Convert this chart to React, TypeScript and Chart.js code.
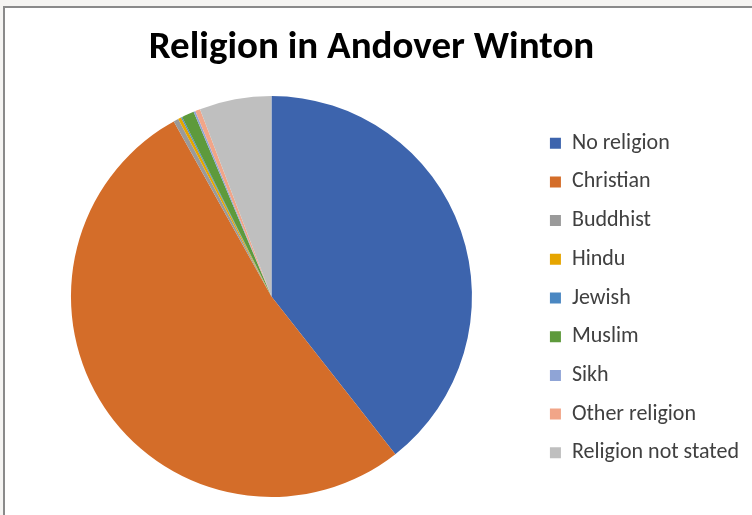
import React, { useEffect, useRef } from "react";
import { Chart, registerables } from "chart.js";

Chart.register(...registerables);

const TITLE = "Religion in Andover Winton";
const categories = [
  "No religion",
  "Christian",
  "Buddhist",
  "Hindu",
  "Jewish",
  "Muslim",
  "Sikh",
  "Other religion",
  "Religion not stated",
];
const percentages = [39.4, 52.5, 0.4, 0.25, 0.1, 1.0, 0.15, 0.4, 5.8];
const colors = [
  "#3D64AD",
  "#D46D29",
  "#9A9A9A",
  "#E6A500",
  "#4A87C2",
  "#5E9A3C",
  "#8FA4D6",
  "#F1A588",
  "#BFBFBF",
];

export default function App() {
  const ref = useRef<HTMLCanvasElement | null>(null);

  useEffect(() => {
    if (!ref.current) return;
    const chart = new Chart(ref.current, {
      type: "pie",
      data: {
        labels: categories,
        datasets: [
          {
            data: percentages,
            backgroundColor: colors,
            borderWidth: 0,
          },
        ],
      },
      options: {
        animation: false,
        responsive: false,
        layout: { padding: { left: 0, right: 0, top: 0, bottom: 18 } },
        plugins: {
          title: {
            display: true,
            text: TITLE,
            color: "#000000",
            font: { family: "Carlito, Calibri, Lato, sans-serif", size: 39, weight: "bold" },
            padding: { top: 16.5, bottom: 24.7 },
          },
          subtitle: {
            display: true,
            position: "left",
            fullSize: false,
            text: " ",
            color: "rgba(0,0,0,0)",
            font: { size: 10, lineHeight: 1.2 },
            padding: { top: 1.85, bottom: 1.85 },
          },
          legend: {
            position: "right",
            fullSize: false,
            maxWidth: 300,
            title: {
              display: true,
              text: " ",
              padding: 0,
              font: { size: 2.5, lineHeight: 1.2 },
            },
            labels: {
              color: "#404040",
              font: { family: "Carlito, Calibri, Lato, sans-serif", size: 22 },
              boxWidth: 11,
              boxHeight: 11,
              padding: 16.7,
            },
          },
          tooltip: { enabled: false },
        },
      },
    });
    return () => chart.destroy();
  }, []);

  return (
    <div
      style={{
        position: "fixed",
        left: 0,
        top: 0,
        width: 752,
        height: 515,
        overflow: "hidden",
        background: "#f5f4f2",
      }}
    >
      <div
        style={{
          position: "absolute",
          left: 3,
          top: 6,
          width: 800,
          height: 560,
          borderLeft: "2px solid #8a8a8a",
          borderTop: "2px solid #8a8a8a",
          background: "#ffffff",
        }}
      />
      <canvas
        ref={ref}
        width={755}
        height={507}
        style={{ position: "absolute", left: -6, top: 8, width: 755, height: 507 }}
      />
    </div>
  );
}
